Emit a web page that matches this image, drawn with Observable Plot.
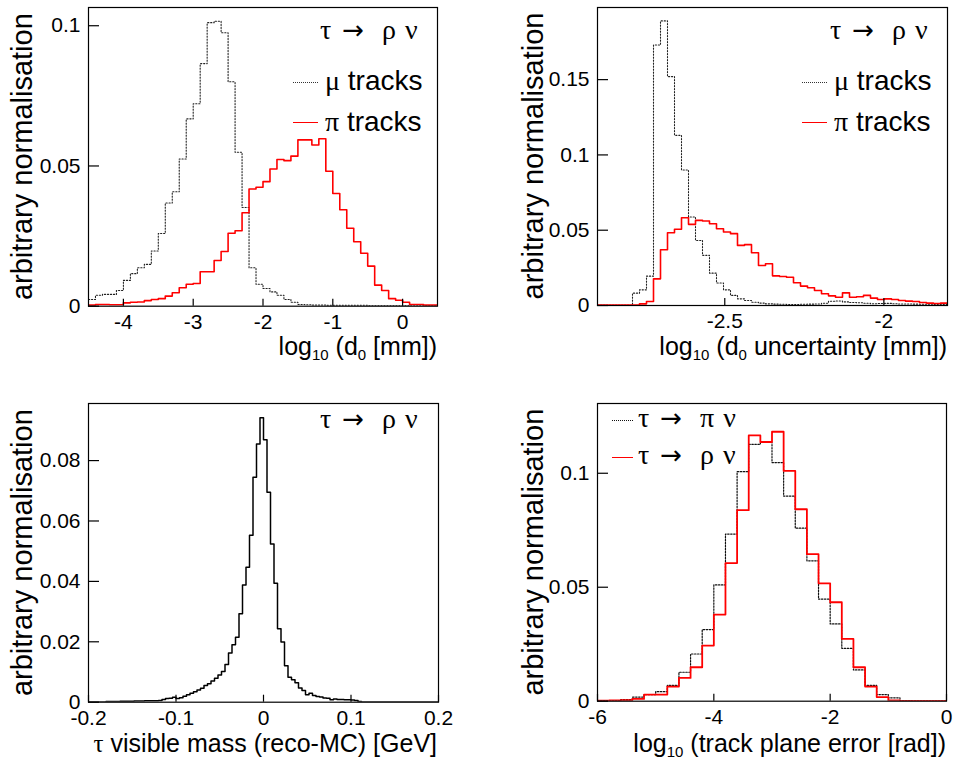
<!DOCTYPE html>
<html><head><meta charset="utf-8">
<script src="https://cdn.jsdelivr.net/npm/d3@7"></script>
<script src="https://cdn.jsdelivr.net/npm/@observablehq/plot@0.6"></script>
<style>
body{margin:0;background:#fff;}
#wrap{position:relative;width:954px;height:769px;overflow:hidden;font-family:"Liberation Sans",Arial,sans-serif;color:#000;background:#fff;}
.panel{position:absolute;}
.t{position:absolute;white-space:nowrap;line-height:1;font-size:28px;}
.g{font-family:"Liberation Serif","DejaVu Serif",serif;}
.arr{font-family:"DejaVu Sans",sans-serif;font-size:26px;line-height:0;margin:0 18px 0 11px;}
.sp{margin-left:9px;}
.ytitle{position:absolute;transform-origin:0 0;transform:rotate(-90deg);text-align:center;font-size:29px;line-height:29px;white-space:nowrap;}
.xtitle{position:absolute;text-align:right;font-size:25px;white-space:nowrap;line-height:1;}
.xtitle sub{font-size:60%;vertical-align:-0.35em;line-height:0;}
.ls{position:absolute;height:0;}
</style></head>
<body><div id="wrap"></div>
<script>
// ---------- data ----------
// Panel 1: log10(d0 [mm]), 50 bins from -4.5, width 0.1
const p1Edge0 = -4.5, p1BinW = 0.1;
const p1Mu = [0.0024,0.0039,0.0042,0.0042,0.0056,0.0092,0.0116,0.0137,0.0149,0.0197,
  0.0259,0.0368,0.0408,0.0525,0.0668,0.0722,0.0865,0.1011,0.1016,0.0975,
  0.0800,0.0549,0.0352,0.0137,0.0078,0.0063,0.0051,0.0039,0.0024,0.0014,
  0.0006,0.0005,0.0004,0.0004,0.0003,0.0003,0.0003,0.0003,0.0003,0.0003,
  0.0002,0.0002,0.0002,0.0002,0.0002,0.0002,0.0001,0.0001,0.0001,0.0001];
const p1Pi = [0.0004,0.0006,0.0006,0.0005,0.0005,0.0012,0.0014,0.0015,0.0020,0.0024,
  0.0027,0.0036,0.0048,0.0066,0.0078,0.0081,0.0123,0.0123,0.0163,0.0195,
  0.0260,0.0269,0.0333,0.0418,0.0424,0.0444,0.0489,0.0523,0.0519,0.0535,
  0.0593,0.0593,0.0575,0.0597,0.0481,0.0402,0.0344,0.0278,0.0230,0.0189,
  0.0143,0.0075,0.0056,0.0027,0.0021,0.0014,0.0006,0.0006,0.0004,0.0004];
const p1XTicks = [-4,-3,-2,-1,0];
const p1YTicks = [0,0.05,0.1];

// Panel 2: log10(d0 uncertainty [mm]), 50 bins from -2.9, width 0.022
const p2Edge0 = -2.9, p2BinW = 0.022;
const p2Mu = [0.0002,0.0002,0.0002,0.0002,0.0002,0.0082,0.0104,0.0195,0.1730,0.1890,
  0.1520,0.1130,0.0900,0.0588,0.0432,0.0333,0.0215,0.0149,0.0104,0.0067,
  0.0044,0.0033,0.0022,0.0016,0.0011,0.0009,0.0008,0.0007,0.0007,0.0008,
  0.0009,0.0010,0.0015,0.0028,0.0030,0.0024,0.0020,0.0018,0.0015,0.0012,
  0.0013,0.0014,0.0012,0.0010,0.0010,0.0009,0.0008,0.0008,0.0007,0.0007];
const p2Pi = [0.0003,0.0003,0.0003,0.0003,0.0003,0.0003,0.0011,0.0027,0.0177,0.0370,
  0.0483,0.0506,0.0583,0.0539,0.0565,0.0561,0.0543,0.0510,0.0488,0.0477,
  0.0399,0.0404,0.0350,0.0266,0.0277,0.0197,0.0193,0.0188,0.0151,0.0129,
  0.0118,0.0100,0.0078,0.0064,0.0055,0.0084,0.0055,0.0058,0.0067,0.0049,
  0.0040,0.0044,0.0040,0.0033,0.0029,0.0027,0.0020,0.0016,0.0013,0.0016];
const p2XTicks = [-2.5,-2];
const p2YTicks = [0,0.05,0.1,0.15];

// Panel 3: tau visible mass (reco-MC) [GeV], 100 bins from -0.2, width 0.004
const p3Edge0 = -0.2, p3BinW = 0.004;
const p3Mass = [0.0001,0.0001,0.0001,0.0001,0.0001,0.0002,0.0002,0.0002,0.0002,0.0003,
  0.0003,0.0003,0.0003,0.0004,0.0004,0.0004,0.0005,0.0005,0.0005,0.0005,
  0.0006,0.0009,0.0012,0.0013,0.0016,0.0012,0.0015,0.0020,0.0025,0.0030,
  0.0035,0.0040,0.0046,0.0055,0.0061,0.0070,0.0079,0.0090,0.0102,0.0125,
  0.0163,0.0190,0.0215,0.0293,0.0388,0.0447,0.0553,0.0745,0.0855,0.0942,
  0.0869,0.0695,0.0524,0.0394,0.0243,0.0199,0.0121,0.0083,0.0074,0.0064,
  0.0047,0.0039,0.0025,0.0030,0.0022,0.0019,0.0017,0.0014,0.0013,0.0008,
  0.0011,0.0009,0.0009,0.0008,0.0008,0.0007,0.0006,0.0002,0.0001,0.0001,
  0.0001,0.0001,0.0001,0.0001,0.0001,0.0001,0.0001,0.0001,0.0001,0.0001,
  0.0001,0.0001,0.0001,0.0001,0.0001,0.0001,0.0001,0.0001,0.0001,0.0001];
const p3XTicks = [-0.2,-0.1,0,0.1,0.2];
const p3YTicks = [0,0.02,0.04,0.06,0.08];

// Panel 4: log10(track plane error [rad]), 30 bins from -6, width 0.2
const p4Edge0 = -6, p4BinW = 0.2;
const p4PiNu = [0.0001,0.0002,0.0007,0.0018,0.0029,0.0042,0.0069,0.0127,0.0207,0.0314,
  0.0510,0.0733,0.1007,0.1127,0.1135,0.1047,0.0900,0.0759,0.0616,0.0448,
  0.0339,0.0232,0.0137,0.0069,0.0029,0.0015,0.0001,0,0,0];
const p4RhoNu = [0.0002,0.0003,0.0005,0.0010,0.0029,0.0029,0.0064,0.0102,0.0149,0.0244,
  0.0380,0.0606,0.0838,0.1166,0.1137,0.1182,0.1010,0.0842,0.0645,0.0517,
  0.0434,0.0273,0.0149,0.0064,0.0018,0.0003,0.0001,0.0001,0.0001,0.0001];
const p4XTicks = [-6,-4,-2,0];
const p4YTicks = [0,0.05,0.1];

// ---------- helpers ----------
function steps(x0, w, vals) {
  const pts = vals.map((v, i) => ({x: x0 + i * w, y: v}));
  pts.push({x: x0 + vals.length * w, y: vals[vals.length - 1]});
  return pts;
}
const wrap = document.getElementById("wrap");

function panel(cfg) {
  const chart = Plot.plot({
    width: cfg.width, height: cfg.height,
    marginLeft: cfg.mL, marginRight: cfg.mR, marginTop: cfg.mT, marginBottom: cfg.mB,
    style: {fontFamily: '"Liberation Sans", Arial, sans-serif', fontSize: "21px", color: "#000", background: "transparent", overflow: "visible"},
    x: {domain: cfg.xDomain},
    y: {domain: cfg.yDomain},
    marks: [
      ...cfg.series.map(s => Plot.line(steps(s.x0, s.w, s.vals), {
        x: "x", y: "y", curve: "step-after", stroke: s.color, strokeWidth: s.width,
        strokeDasharray: s.dash, clip: true
      })),
      Plot.axisX({ticks: cfg.xTicks, tickFormat: d => String(d), tickSize: -7, tickPadding: 15, label: null, strokeWidth: 1.2}),
      Plot.axisY({ticks: cfg.yTicks, tickFormat: d => String(d), tickSize: -11, tickPadding: 19, label: null, strokeWidth: 1.2}),
      Plot.frame({stroke: "#000", strokeWidth: 1.2})
    ]
  });
  const d = document.createElement("div");
  d.className = "panel";
  d.style.left = cfg.left + "px";
  d.style.top = cfg.top + "px";
  d.appendChild(chart);
  wrap.appendChild(d);
}

function addHTML(cls, style, html) {
  const d = document.createElement("div");
  d.className = cls;
  Object.assign(d.style, style);
  d.innerHTML = html;
  wrap.appendChild(d);
  return d;
}

// ---------- panels ----------
panel({left: 0, top: 0, width: 477, height: 385, mL: 88, mR: 40, mT: 7, mB: 79.3,
  xDomain: [-4.5, 0.5], yDomain: [0, 0.1065], xTicks: p1XTicks, yTicks: p1YTicks,
  series: [
    {x0: p1Edge0, w: p1BinW, vals: p1Mu, color: "#222", width: 1.1, dash: "1.2,1.8"},
    {x0: p1Edge0, w: p1BinW, vals: p1Pi, color: "#ff0000", width: 1.6}
  ]});
panel({left: 477, top: 0, width: 477, height: 385, mL: 120, mR: 7, mT: 7, mB: 80,
  xDomain: [-2.9, -1.8], yDomain: [0, 0.1979], xTicks: p2XTicks, yTicks: p2YTicks,
  series: [
    {x0: p2Edge0, w: p2BinW, vals: p2Mu, color: "#222", width: 1.1, dash: "1.2,1.8"},
    {x0: p2Edge0, w: p2BinW, vals: p2Pi, color: "#ff0000", width: 1.6}
  ]});
panel({left: 0, top: 385, width: 477, height: 384, mL: 88, mR: 39, mT: 18, mB: 67.3,
  xDomain: [-0.2, 0.2], yDomain: [0, 0.0989], xTicks: p3XTicks, yTicks: p3YTicks,
  series: [
    {x0: p3Edge0, w: p3BinW, vals: p3Mass, color: "#000", width: 1.5}
  ]});
panel({left: 477, top: 385, width: 477, height: 384, mL: 120, mR: 8, mT: 18, mB: 68.3,
  xDomain: [-6, 0], yDomain: [0, 0.1306], xTicks: p4XTicks, yTicks: p4YTicks,
  series: [
    {x0: p4Edge0, w: p4BinW, vals: p4PiNu, color: "#111", width: 1.2, dash: "1.5,1.5"},
    {x0: p4Edge0, w: p4BinW, vals: p4RhoNu, color: "#ff0000", width: 1.8}
  ]});

// ---------- axis titles ----------
const yTitle = "arbitrary normalisation";
addHTML("ytitle", {left: "8px", top: "305.7px", width: "298.7px"}, yTitle);
addHTML("ytitle", {left: "519px", top: "305px", width: "298px"}, yTitle);
addHTML("ytitle", {left: "8px", top: "701.7px", width: "298.7px"}, yTitle);
addHTML("ytitle", {left: "519px", top: "700.7px", width: "297.7px"}, yTitle);

addHTML("xtitle", {right: (954 - 437) + "px", top: "334px"}, 'log<sub>10</sub> (d<sub>0</sub> [mm])');
addHTML("xtitle", {right: (954 - 947) + "px", top: "334px"}, 'log<sub>10</sub> (d<sub>0</sub> uncertainty [mm])');
addHTML("xtitle", {right: (954 - 437) + "px", top: "731px"}, '<span class="g">τ</span> visible mass (reco-MC) [GeV]');
addHTML("xtitle", {right: (954 - 946) + "px", top: "731px"}, 'log<sub>10</sub> (track plane error [rad])');

// ---------- legends ----------
const decayRho = '<span class="g">τ<span class="arr">→</span>ρ<span class="sp">ν</span></span>';
const decayPi = '<span class="g">τ<span class="arr">→</span>π<span class="sp">ν</span></span>';
addHTML("t", {left: "320px", top: "16px"}, decayRho);
addHTML("t", {left: "325px", top: "67px"}, '<span class="g">μ</span> tracks');
addHTML("t", {left: "325px", top: "108px"}, '<span class="g">π</span> tracks');
addHTML("ls", {left: "293px", top: "82px", width: "25px", borderTop: "1px dotted #333"}, "");
addHTML("ls", {left: "293px", top: "122px", width: "25px", borderTop: "1.5px solid #ff0000"}, "");

addHTML("t", {left: "830px", top: "16px"}, decayRho);
addHTML("t", {left: "834px", top: "67px"}, '<span class="g">μ</span> tracks');
addHTML("t", {left: "834px", top: "108px"}, '<span class="g">π</span> tracks');
addHTML("ls", {left: "802px", top: "82px", width: "25px", borderTop: "1px dotted #333"}, "");
addHTML("ls", {left: "802px", top: "122px", width: "25px", borderTop: "1.5px solid #ff0000"}, "");

addHTML("t", {left: "320px", top: "405px"}, decayRho);

addHTML("t", {left: "638px", top: "404px"}, decayPi);
addHTML("t", {left: "638px", top: "441px"}, decayRho);
addHTML("ls", {left: "612px", top: "420px", width: "21px", borderTop: "1px dotted #111"}, "");
addHTML("ls", {left: "612px", top: "457px", width: "21px", borderTop: "1.5px solid #ff0000"}, "");
</script></body></html>
